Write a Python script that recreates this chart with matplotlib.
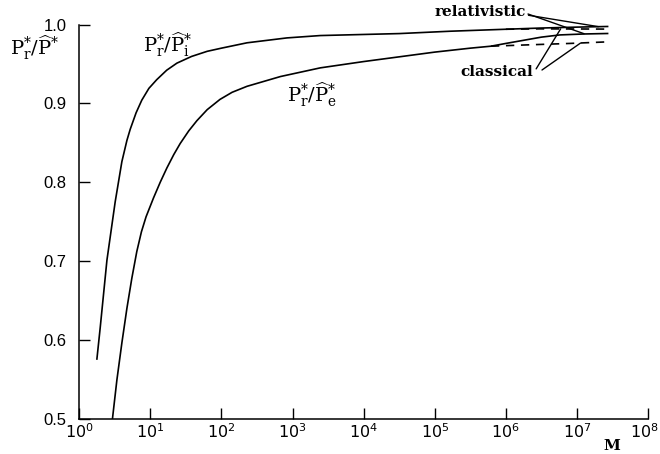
import matplotlib
matplotlib.use("Agg")
import matplotlib.pyplot as plt
import matplotlib.transforms as mtransforms
import numpy as np

# ---------------------------------------------------------------- data
# x values are stored as log10(M)
# upper curve  Pr*/Pi*  (relativistic)
logm_i = [0.249, 0.295, 0.39, 0.506, 0.60, 0.671, 0.717, 0.80, 0.88, 0.98, 1.09, 1.23,
          1.374, 1.58, 1.80, 2.0, 2.36, 2.92, 3.39, 4.5, 5.22, 6.0, 6.48, 7.0, 7.43]
ratio_i = [0.5756, 0.615, 0.701, 0.775, 0.826, 0.853, 0.867, 0.888, 0.904, 0.919, 0.930,
           0.942, 0.951, 0.9595, 0.966, 0.970, 0.9768, 0.983, 0.986, 0.9885, 0.9915,
           0.994, 0.9955, 0.9967, 0.9975]
# classical branch of the upper curve
logm_i_cl = [6.0, 6.48, 7.43]
ratio_i_cl = [0.994, 0.9945, 0.9942]

# lower curve  Pr*/Pe*  (relativistic)
logm_e = [0.468, 0.53, 0.60, 0.671, 0.74, 0.81, 0.875, 0.94, 1.045, 1.14, 1.233, 1.33,
          1.42, 1.54, 1.655, 1.80, 1.98, 2.15, 2.36, 2.83, 3.39, 4.0, 4.5, 5.0, 5.5, 5.79,
          6.0, 6.25, 6.5, 6.76, 7.1, 7.43]
ratio_e = [0.500, 0.549, 0.596, 0.640, 0.678, 0.712, 0.737, 0.756, 0.780, 0.800, 0.818,
           0.835, 0.849, 0.865, 0.878, 0.892, 0.905, 0.914, 0.9216, 0.934, 0.945, 0.953,
           0.959, 0.965, 0.970, 0.9725, 0.976, 0.980, 0.984, 0.9868, 0.988, 0.9886]
# classical branch of the lower curve
logm_e_cl = [5.79, 6.25, 6.9, 7.43]
ratio_e_cl = [0.9725, 0.974, 0.976, 0.978]

xtick_exp = list(range(9))
yticks = [0.5, 0.6, 0.7, 0.8, 0.9, 1.0]
ytick_labels = ["0.5", "0.6", "0.7", "0.8", "0.9", "1.0"]

SANS = "Liberation Sans"
SERIF = "DejaVu Serif"


def px(x, y):
    """reference pixel position -> figure fraction"""
    return x / 660.0, 1 - y / 454.0


fig = plt.figure(figsize=(6.6, 4.54), dpi=100)
ax = fig.add_axes([0.12, 0.078, 0.862, 0.868])

lw = 1.2
dash = (0, (5, 4))
ax.plot(10.0 ** np.array(logm_i), ratio_i, color="black", lw=lw)
ax.plot(10.0 ** np.array(logm_i_cl), ratio_i_cl, color="black", lw=lw, ls=dash)
ax.plot(10.0 ** np.array(logm_e), ratio_e, color="black", lw=lw)
ax.plot(10.0 ** np.array(logm_e_cl), ratio_e_cl, color="black", lw=lw, ls=dash)

ax.set_xscale("log")
ax.set_xlim(1, 1e8)
ax.set_ylim(0.5, 1.0)

ax.set_xticks([10.0 ** k for k in xtick_exp])
ax.set_xticklabels([rf"$10^{{{k}}}$" for k in xtick_exp], fontfamily=SANS, fontsize=11.5,
                   math_fontfamily="dejavusans")
ax.xaxis.set_minor_locator(matplotlib.ticker.NullLocator())
ax.set_yticks(yticks)
ax.set_yticklabels(ytick_labels, fontfamily=SANS, fontsize=12)

ax.tick_params(axis="both", direction="in", length=8, width=1.0, colors="black")
ax.tick_params(axis="y", pad=9)
ax.tick_params(axis="x", pad=3)

# nudge the last x label so it stays inside the canvas
last = ax.get_xticklabels()[-1]
last.set_transform(last.get_transform()
                   + mtransforms.ScaledTranslation(-4 / 100, 0, fig.dpi_scale_trans))

for side in ("top", "right"):
    ax.spines[side].set_visible(False)
for side in ("left", "bottom"):
    ax.spines[side].set_linewidth(1.1)

# curve and axis labels
fig.text(*px(168, 45), r"$\mathrm{P}_\mathrm{r}^{*}/\widehat{\mathrm{P}}_\mathrm{i}^{*}$",
         fontsize=14, ha="center", va="center", math_fontfamily="dejavuserif")
fig.text(*px(312, 95), r"$\mathrm{P}_\mathrm{r}^{*}/\widehat{\mathrm{P}}_\mathrm{e}^{*}$",
         fontsize=14, ha="center", va="center", math_fontfamily="dejavuserif")
fig.text(*px(35, 48), r"$\mathrm{P}_\mathrm{r}^{*}/\widehat{\mathrm{P}}^{*}$",
         fontsize=14, ha="center", va="center", math_fontfamily="dejavuserif")
fig.text(*px(612, 446), "M", fontsize=11, fontweight="bold", fontfamily=SERIF,
         ha="center", va="center")

# pointer labels
line_kw = dict(arrowstyle="-", lw=1.0, color="black", shrinkA=0, shrinkB=0)
ax.annotate("relativistic", xy=(10 ** 7.3, 0.9973), xycoords="data",
            xytext=px(480, 12), textcoords="figure fraction",
            fontsize=11, fontweight="bold", fontfamily=SERIF, ha="center", va="center",
            arrowprops=dict(relpos=(1.0, 0.3), **line_kw))
ax.annotate("", xy=(10 ** 7.1, 0.9883), xycoords="data",
            xytext=px(528, 14), textcoords="figure fraction", arrowprops=line_kw)
ax.annotate("classical", xy=(10 ** 6.77, 0.9945), xycoords="data",
            xytext=px(497, 72), textcoords="figure fraction",
            fontsize=11, fontweight="bold", fontfamily=SERIF, ha="center", va="center",
            arrowprops=dict(relpos=(1.0, 0.4), **line_kw))
ax.annotate("", xy=(10 ** 7.05, 0.9765), xycoords="data",
            xytext=px(542, 70), textcoords="figure fraction", arrowprops=line_kw)

fig.savefig("out.png", dpi=100)
